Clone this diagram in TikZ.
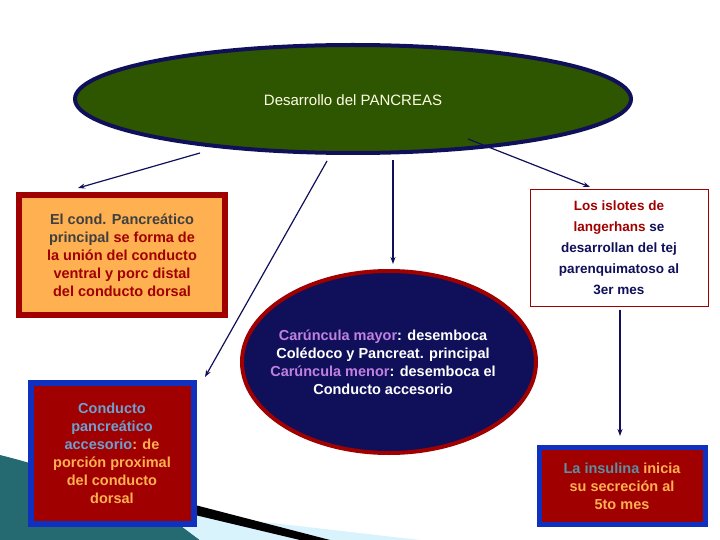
\documentclass[tikz,border=0pt]{standalone}
\usepackage{fontspec}
\setmainfont{Liberation Sans}
\usetikzlibrary{shapes.geometric,arrows.meta}
\definecolor{navy}{HTML}{10105A}
\definecolor{dred}{HTML}{A00000}
\definecolor{org}{HTML}{FFB050}
\definecolor{grn}{HTML}{2E5600}
\definecolor{vio}{HTML}{C080E0}
\definecolor{lblue}{HTML}{6EA0D0}
\definecolor{teal2}{HTML}{5A90A0}
\definecolor{dgray}{HTML}{404040}
\definecolor{bblue}{HTML}{1030C0}
\begin{document}
\begin{tikzpicture}[x=1pt,y=-1pt,
  conn/.style={draw=navy,line width=1.2pt,-{Stealth[length=7pt,width=5pt]}},
  txt/.style={font=\bfseries\fontsize{14.5}{18}\selectfont,align=center}]
\useasboundingbox (0,0) rectangle (720,540);
% background decoration
\fill[teal2!70!cyan!60!black] (0,455) .. controls (60,470) and (110,490) .. (160,510) -- (200,540) -- (0,540) -- cycle;
\fill[cyan!15] (160,510) -- (420,540) -- (200,540) -- cycle;
\fill[black] (195,505) -- (330,540) -- (300,540) -- (195,515) -- cycle;
% nodes
\node[ellipse,draw=navy,line width=4pt,fill=grn,minimum width=556pt,minimum height=108pt] (top) at (353,99) {};
\node[font=\fontsize{15}{18}\selectfont,text=white!90!yellow] at (353,100) {Desarrollo del PANCREAS};
\node[draw=dred,line width=6pt,fill=org,minimum width=206pt,minimum height=120pt,txt] (a) at (122,255) {};
\node[txt,text=dred] at (a) {\textcolor{dgray}{El cond. Pancreático}\\\textcolor{dgray}{principal} se forma de\\la unión del conducto\\ventral y porc distal\\del conducto dorsal};
\node[draw=bblue,line width=6pt,fill=dred,minimum width=163pt,minimum height=141pt] (b) at (112,453) {};
\node[txt,text=org] at (b) {\textcolor{lblue}{Conducto}\\\textcolor{lblue}{pancreático}\\\textcolor{lblue}{accesorio}: de\\porción proximal\\del conducto\\dorsal};
\node[ellipse,draw=dred,line width=4pt,fill=navy,minimum width=294pt,minimum height=182pt] (c) at (389,362) {};
\node[txt,text=white] at (383,362) {\textcolor{vio}{Carúncula mayor}: desemboca\\Colédoco y Pancreat. principal\\\textcolor{vio}{Carúncula menor}: desemboca el\\Conducto accesorio};
\node[draw=dred,line width=1pt,fill=white,minimum width=178pt,minimum height=116pt] (d) at (619,248) {};
\node[font=\bfseries\fontsize{13.5}{21}\selectfont,align=center,text=navy] at (d) {\textcolor{dred}{Los islotes de}\\\textcolor{dred}{langerhans} se\\desarrollan del tej\\parenquimatoso al\\3er mes};
\node[draw=bblue,line width=5pt,fill=dred,minimum width=166pt,minimum height=77pt] (e) at (622,486) {};
\node[txt,text=org] at (e) {\textcolor{teal2}{La insulina} inicia\\su secreción al\\5to mes};
% connectors
\coordinate (t1) at (200,153); \coordinate (t2) at (327,161);
\coordinate (t3) at (393,160); \coordinate (t4) at (468,139);
\draw[conn] (t1) -- (78,188);
\draw[conn] (t2) -- (205,377);
\draw[conn] (t3) -- (393,264);
\draw[conn] (t4) -- (590,187);
\draw[conn] (d.south -| 620,0) ++(0,3) -- (620,436);
\end{tikzpicture}
\end{document}
